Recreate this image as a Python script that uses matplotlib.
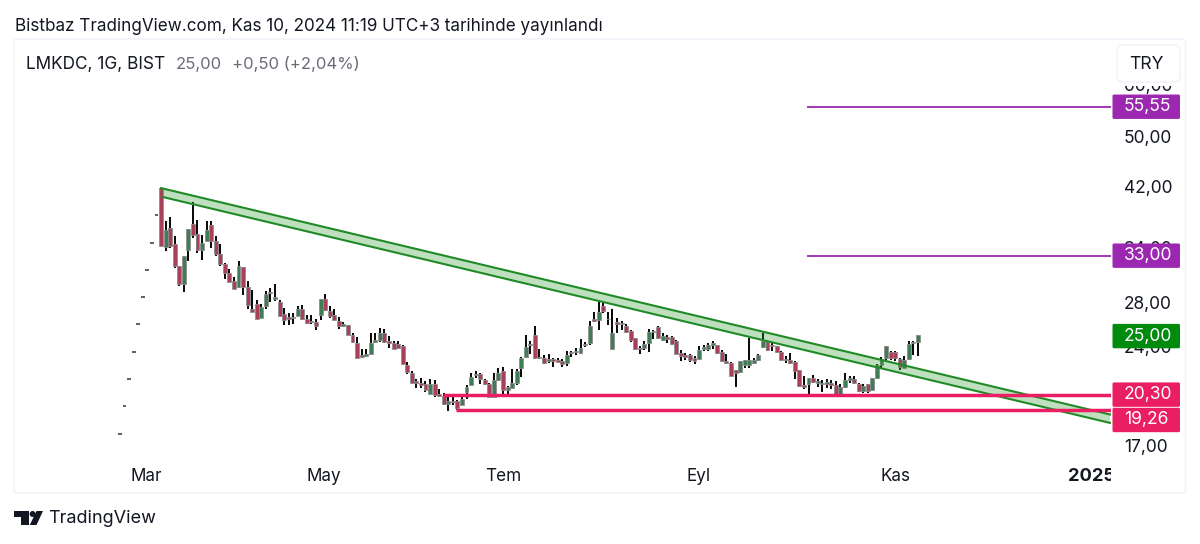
import matplotlib
matplotlib.use("Agg")
import matplotlib.pyplot as plt
from matplotlib.patches import FancyBboxPatch, Rectangle, Polygon, Circle
from matplotlib.ticker import FixedLocator, FixedFormatter, NullLocator, NullFormatter
from matplotlib.transforms import Bbox, IdentityTransform

plt.rcParams['font.family'] = ['Inter', 'DejaVu Sans']

# ---------- data ----------
IPO_DAYS = [17.72, 19.50, 21.44, 23.60, 25.95, 28.55, 31.40, 34.50, 38.00]

OPEN = [41.80,34.03,36.36,34.42,31.88,29.93,33.62,36.87,35.60,33.62,
        34.70,36.74,34.70,33.23,32.10,31.07,30.18,29.58,31.73,29.58,
        27.40,27.84,26.55,27.65,28.98,28.37,28.10,26.93,26.64,26.52,
        26.77,27.34,26.42,26.27,26.21,26.83,28.37,27.24,26.83,26.30,
        25.79,25.88,25.05,24.34,23.19,23.22,23.36,24.39,24.56,25.20,
        24.48,24.34,24.19,24.05,22.51,21.87,21.29,21.17,21.05,20.32,
        21.10,20.37,20.20,19.68,19.86,19.84,19.58,20.49,21.02,21.74,
        21.85,21.34,21.07,20.15,21.34,22.05,20.63,20.80,21.12,22.25,
        23.18,24.11,24.97,23.18,23.10,22.85,22.96,22.88,22.83,22.64,
        23.45,23.56,23.51,24.14,24.28,26.46,26.34,27.66,26.40,23.83,
        26.16,25.95,25.79,25.37,24.71,23.91,23.91,24.28,25.29,25.70,
        24.61,24.82,24.85,24.47,23.50,23.28,23.28,23.06,23.00,23.83,
        23.83,24.18,24.13,23.58,22.87,22.69,22.09,21.96,22.48,22.48,
        22.64,22.95,23.99,24.41,24.18,24.05,23.55,23.03,22.95,22.74,
        22.09,20.97,21.04,21.53,21.11,21.16,21.04,21.11,20.97,20.38,
        20.87,21.36,21.45,21.04,20.55,21.04,20.62,21.53,22.48,23.09,
        23.55,23.55,23.03,22.30,23.00,24.32,24.41]
CLOSE = [34.19,36.15,34.11,31.88,29.93,33.01,36.27,35.43,33.62,34.50,
         36.15,34.70,33.23,32.03,31.07,30.14,29.41,31.88,29.58,27.81,
         27.09,26.49,27.59,28.91,29.11,28.54,26.77,26.39,26.49,26.64,
         27.34,26.45,26.09,26.21,25.79,28.37,27.27,26.71,26.33,25.85,
         26.03,25.05,24.39,23.09,23.30,23.36,24.28,24.56,25.20,24.43,
         24.34,23.83,23.91,22.61,21.97,21.17,21.17,21.02,20.61,21.10,
         20.25,20.20,19.63,19.84,19.79,19.40,20.02,20.88,21.59,21.85,
         21.41,21.05,20.15,21.34,21.87,20.63,20.85,21.17,22.05,23.07,
         24.00,24.19,23.07,23.07,22.69,22.96,22.83,22.79,22.56,23.34,
         23.56,23.64,23.91,24.22,25.85,26.25,27.11,27.17,26.49,25.20,
         26.01,26.04,25.29,24.54,23.83,23.78,24.19,25.26,25.40,24.77,
         24.96,24.67,24.24,23.44,23.22,23.17,22.90,22.82,23.77,23.99,
         24.18,24.32,23.50,22.82,22.69,21.70,21.91,22.82,22.90,22.95,
         22.90,23.28,24.47,23.72,24.05,23.55,22.95,22.95,22.69,22.04,
         20.92,20.87,21.48,21.24,21.28,21.04,21.21,21.02,20.24,20.87,
         21.36,21.53,21.11,20.55,20.92,20.55,21.48,22.48,23.00,24.10,
         23.09,23.09,22.38,22.90,24.26,24.41,25.00]
HIGH = [41.80,37.21,37.82,35.30,31.88,33.01,36.27,39.80,37.42,35.51,
        37.29,37.29,35.38,34.42,32.18,31.50,30.65,32.37,31.73,30.18,
        29.25,28.24,27.87,29.15,29.48,29.90,28.24,27.50,27.02,27.02,
        27.72,27.75,26.86,26.80,26.45,28.37,28.88,27.65,27.40,26.61,
        26.15,25.94,25.20,24.84,23.83,23.83,25.20,25.14,25.65,25.55,
        24.91,24.48,24.48,24.11,22.74,22.05,21.46,21.49,21.29,21.41,
        21.36,20.68,20.44,20.13,20.15,19.93,20.20,20.97,21.92,22.05,
        21.92,21.46,21.12,21.92,22.31,22.38,20.92,22.18,22.23,23.18,
        24.97,24.48,25.79,23.78,23.29,23.37,23.04,23.04,22.96,23.64,
        23.64,23.91,24.68,24.40,26.25,27.07,28.05,27.98,27.11,27.40,
        26.55,26.25,25.95,25.49,24.77,24.05,24.48,25.55,25.49,25.79,
        25.14,25.05,24.90,24.61,23.77,23.50,23.36,23.22,24.05,24.18,
        24.32,24.47,24.18,23.77,23.36,22.77,22.12,22.82,22.95,24.76,
        23.09,23.36,25.16,24.47,24.32,24.10,23.63,23.22,23.50,22.82,
        22.12,21.65,21.53,21.78,21.41,21.36,21.41,21.36,21.28,21.04,
        21.91,21.70,21.65,21.11,21.04,21.04,21.53,22.56,23.17,24.10,
        23.63,23.63,23.09,23.22,24.47,24.47,25.05]
LOW = [34.19,33.59,33.91,31.62,29.65,29.05,32.37,35.10,33.31,32.56,
       34.70,33.91,33.01,31.88,30.43,30.07,29.38,29.48,28.81,27.34,
       27.09,26.49,26.55,27.34,28.04,28.14,26.77,25.94,25.94,26.03,
       26.71,26.39,26.00,26.03,25.44,26.39,27.18,26.55,26.33,25.56,
       25.70,24.99,24.34,23.06,23.14,23.14,23.30,24.34,24.39,24.34,
       23.91,23.78,23.78,22.56,21.85,21.12,20.80,20.80,20.51,20.32,
       20.13,20.15,19.58,19.17,19.56,19.22,19.58,19.97,20.97,21.54,
       21.05,20.97,20.15,20.15,21.29,20.25,20.20,20.78,20.97,21.59,
       23.10,23.37,23.02,22.96,22.56,22.69,22.38,22.74,22.38,22.43,
       23.15,23.29,23.37,24.00,24.11,26.16,25.49,27.01,25.89,23.78,
       25.14,25.49,25.20,24.40,23.72,23.37,23.72,23.56,24.68,24.62,
       24.47,24.32,24.18,23.36,22.82,22.95,22.77,22.56,22.95,23.63,
       23.63,23.83,23.42,22.74,22.56,21.65,20.87,21.91,22.30,22.30,
       22.56,22.82,23.91,23.63,23.63,23.50,22.90,22.69,22.56,21.41,
       20.87,20.72,20.24,21.11,20.87,20.48,20.80,20.67,20.15,20.24,
       20.80,21.11,21.04,20.50,20.43,20.43,20.62,21.41,22.30,22.95,
       22.95,22.82,22.09,22.30,22.95,23.31,23.22]

Y_TICKS = [60, 50, 42, 34, 28, 24, 17]
Y_LABELS = ["60,00", "50,00", "42,00", "34,00", "28,00", "24,00", "17,00"]
X_TICKS = [-3.3, 35.7, 75, 117.8, 161, 204.1]
X_LABELS = ["Mar", "May", "Tem", "Eyl", "Kas", "2025"]

CHANNEL_UPPER = [(0, 41.80), (208.1, 18.94)]
CHANNEL_LOWER = [(208.1, 18.39), (0.5, 40.50)]
PURPLE_LEVELS = [55.55, 33.00]
PURPLE_START = 141.7
PINK_LEVELS = [20.30, 19.26]
PINK_STARTS = [61.8, 64.7]
LAST_PRICE = 25.00
AX_RIGHT_INDEX = 208.33

# ---------- layout helpers ----------
W, H = 1200, 544
fig = plt.figure(figsize=(W / 100, H / 100), dpi=100, facecolor='white')
L_PX, R_PX, T_PX, B_PX = 15, 1111, 40, 462
ax = fig.add_axes([L_PX / W, (H - B_PX) / H, (R_PX - L_PX) / W, (B_PX - T_PX) / H])
ax.set_facecolor('none')
ax.set_yscale('log')
ax.set_ylim(16.04, 70.15)
ax.set_xlim(-32.02, AX_RIGHT_INDEX)

TXT = '#131722'
GREEN_B, RED_B = '#3f7d56', '#a8405a'


def draw_candles(idx, o, h, l, c):
    ax.vlines(idx, l, h, color='#0c0c0c', lw=1.45, zorder=2)
    colors = [GREEN_B if ci >= oi else RED_B for oi, ci in zip(o, c)]
    ax.bar(idx, [abs(ci - oi) for oi, ci in zip(o, c)],
           bottom=[min(oi, ci) for oi, ci in zip(o, c)],
           width=0.86, color=colors, edgecolor='#8f8f8f', linewidth=0.6, zorder=3)


draw_candles(list(range(len(OPEN))), OPEN, HIGH, LOW, CLOSE)
ipo_idx = list(range(-len(IPO_DAYS), 0))
ax.hlines(IPO_DAYS, [i - 0.42 for i in ipo_idx], [i + 0.42 for i in ipo_idx],
          color='#444444', lw=1.2, zorder=3)

# trend channel
ax.add_patch(Polygon(CHANNEL_UPPER + CHANNEL_LOWER, closed=True,
                     facecolor='#2e9b2e', alpha=0.3, edgecolor='none', zorder=4))
for seg in (CHANNEL_UPPER, CHANNEL_LOWER):
    ax.plot([p[0] for p in seg], [p[1] for p in seg], color='#1f8a26', lw=1.5, zorder=5)

# horizontal levels
ax.hlines(PURPLE_LEVELS, PURPLE_START, AX_RIGHT_INDEX, color='#9c27b0', lw=1.3, zorder=5)
ax.hlines(PINK_LEVELS, PINK_STARTS, AX_RIGHT_INDEX, color='#e91e63', lw=2.5, zorder=6)

# axes
for s in ax.spines.values():
    s.set_visible(False)
ax.yaxis.tick_right()
ax.yaxis.set_major_locator(FixedLocator(Y_TICKS))
ax.yaxis.set_major_formatter(FixedFormatter(Y_LABELS))
ax.yaxis.set_minor_locator(NullLocator())
ax.yaxis.set_minor_formatter(NullFormatter())
ax.xaxis.set_major_locator(FixedLocator(X_TICKS))
ax.xaxis.set_major_formatter(FixedFormatter(X_LABELS))
ax.tick_params(axis='both', which='both', length=0)
ax.tick_params(axis='y', labelsize=12.5, labelcolor=TXT, pad=9.4)
ax.tick_params(axis='x', labelsize=12.3, labelcolor=TXT, pad=4.6)
fig.canvas.draw()
for lb in ax.get_xticklabels():
    if lb.get_text() == "2025":
        lb.set_fontweight('bold')
        lb.set_fontsize(13.2)
    lb.set_clip_on(True)
    lb.set_clip_box(Bbox.from_extents(0, 0, R_PX, H))

# ---------- chrome in pixel space ----------
def px_y(y):
    return H - y


def fig_rect(x0, y0, x1, y1, z, **kw):
    r = Rectangle((x0, px_y(y1)), x1 - x0, y1 - y0, transform=IdentityTransform(), zorder=z, **kw)
    fig.add_artist(r)
    return r


def rounded(x0, y0, x1, y1, z, rad=2, **kw):
    p = FancyBboxPatch((x0 + rad, px_y(y1) + rad), x1 - x0 - 2 * rad, y1 - y0 - 2 * rad,
                       boxstyle=f"round,pad={rad},rounding_size={rad}",
                       transform=IdentityTransform(), zorder=z, **kw)
    fig.add_artist(p)
    return p


def ftext(x, y, s, **kw):
    kw.setdefault('va', 'center')
    kw.setdefault('ha', 'left')
    kw.setdefault('color', TXT)
    return fig.text(x / W, (H - y) / H, s, **kw)


# outer panel
rounded(14, 39, 1185.5, 493, -1, rad=3, facecolor='white', edgecolor='#f0f3fa', linewidth=1.2)
# mask above the price scale and TRY button
fig_rect(1112, 40, 1184, 86, 6, facecolor='white', edgecolor='none')
rounded(1117, 45, 1180, 82, 7, rad=6, facecolor='white', edgecolor='#f0f3fa', linewidth=1.2)
ftext(1146, 64.5, "TRY", ha='center', fontsize=12.6, zorder=8)


def price_tag(val, color, shift=0):
    y_disp = ax.transData.transform((0, val))[1]
    cy = H - y_disp + shift
    rounded(1112.5, cy - 12.2, 1180, cy + 12.2, 9, rad=1.5, facecolor=color, edgecolor='none')
    ftext(1124, cy, f"{val:.2f}".replace('.', ','), color='white', fontsize=12.6, zorder=10)


for v in PURPLE_LEVELS:
    price_tag(v, '#9c27b0')
price_tag(LAST_PRICE, '#008a0e', shift=1)
price_tag(PINK_LEVELS[0], '#e91e63')
price_tag(PINK_LEVELS[1], '#e91e63', shift=10.3)

# header
ftext(15, 26.5, "Bistbaz TradingView.com, Kas 10, 2024 11:19 UTC+3 tarihinde yayınlandı", fontsize=12.3)
ftext(26, 64.5, "LMKDC, 1G, BIST", fontsize=12.4)
ftext(176, 64.5, "25,00", fontsize=12.0, color='#6a6d78')
ftext(232, 64.5, "+0,50 (+2,04%)", fontsize=12.0, color='#6a6d78')

# TradingView logo and word mark
logo = '#131722'
for pts in ([(14, 511), (29, 511), (29, 525), (21, 525), (21, 517), (14, 517)],
            [(36.5, 511), (43, 511), (36.5, 525), (29.8, 525)]):
    fig.add_artist(Polygon([(x, px_y(y)) for x, y in pts], closed=True,
                           transform=IdentityTransform(), facecolor=logo, edgecolor='none'))
fig.add_artist(Circle((32.6, px_y(514)), 3.0, transform=IdentityTransform(),
                      facecolor=logo, edgecolor='none'))
ftext(48, 518.5, "TradingView", fontsize=13.0)

fig.savefig("out.png", dpi=100)
